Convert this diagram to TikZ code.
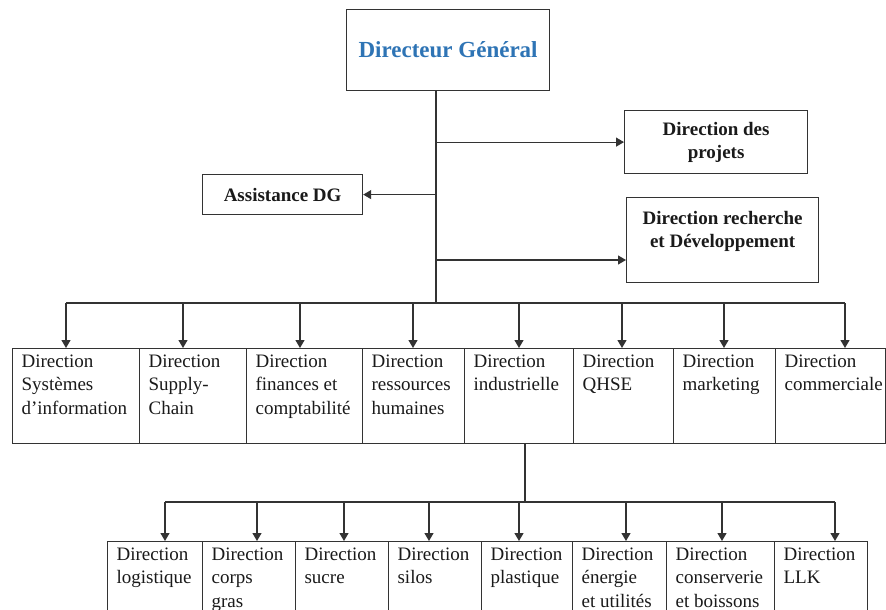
\documentclass[tikz,border=0pt]{standalone}
\usepackage{fontspec}
\setmainfont{Liberation Serif}
\usetikzlibrary{arrows.meta}

\definecolor{linec}{HTML}{333333}
\definecolor{dgblue}{RGB}{46,116,181}
\definecolor{txtc}{HTML}{1A1A1A}

% top-aligned, left-aligned text block of a fixed size
\newcommand\cellbox[3]{\parbox[c][#2][t]{#1}{\vspace*{6pt}\raggedright\leftskip=9pt\relax #3}}

\tikzset{
  wire/.style={draw=linec, line width=1.2pt},
  arr/.style={wire, -{Triangle[length=8pt,width=9pt]}},
  cell/.style={draw=linec, line width=1.2pt, anchor=north west, inner sep=0pt,
    text=txtc, font=\fontsize{19}{23.5}\selectfont},
  headbox/.style={draw=linec, line width=1.2pt, anchor=north west, inner sep=0pt,
    align=center, text=txtc, font=\bfseries\fontsize{19}{23}\selectfont},
}

\begin{document}
\begin{tikzpicture}[x=1pt, y=-1pt]
\useasboundingbox (0,0) rectangle (886,610);
\fill[white] (0,0) rectangle (886,610);
\begin{scope}
\clip (0,0) rectangle (886,610);

% general management
\node[headbox, minimum width=203pt, minimum height=81pt, text=dgblue,
  font=\bfseries\fontsize{23}{27}\selectfont] (dg) at (346,9) {Directeur Général};

% staff units
\node[headbox, minimum width=183pt, minimum height=63pt] (proj) at (624,110)
  {Direction des\\projets};
\node[headbox, minimum width=160pt, minimum height=40pt] (asst) at (202,174)
  {Assistance DG};
\node[headbox] (rd) at (626,197)
  {\parbox[c][85pt][t]{192pt}{\vspace*{14pt}\centering Direction recherche\\et Développement}};

% main trunk
\coordinate (trk) at (436,303);
\draw[wire] (trk |- dg.south) -- (trk);
\draw[arr] (proj.west -| trk) -- (proj.west);
\draw[arr] (asst.east -| trk) -- (asst.east);
\coordinate (rdin) at (626,260);
\draw[arr] (rdin -| trk) -- (rdin);

% first level directions
\node[cell] (r1) at (12,348)  {\cellbox{127pt}{95pt}{Direction\\Systèmes\\d’information}};
\node[cell] (r2) at (139,348) {\cellbox{107pt}{95pt}{Direction\\Supply-\\Chain}};
\node[cell] (r3) at (246,348) {\cellbox{116pt}{95pt}{Direction\\finances et\\comptabilité}};
\node[cell] (r4) at (362,348) {\cellbox{102pt}{95pt}{Direction\\ressources\\humaines}};
\node[cell] (r5) at (464,348) {\cellbox{109pt}{95pt}{Direction\\industrielle}};
\node[cell] (r6) at (573,348) {\cellbox{100pt}{95pt}{Direction\\QHSE}};
\node[cell] (r7) at (673,348) {\cellbox{102pt}{95pt}{Direction\\marketing}};
\node[cell] (r8) at (775,348) {\cellbox{110pt}{95pt}{Direction\\commerciale}};

\coordinate (b1) at (66,303);
\coordinate (b2) at (183,303);
\coordinate (b3) at (300,303);
\coordinate (b4) at (413,303);
\coordinate (b5) at (519,303);
\coordinate (b6) at (622,303);
\coordinate (b7) at (724,303);
\coordinate (b8) at (845,303);
\draw[wire] (b1) -- (b8);
\foreach \i in {1,...,8} \draw[arr] (b\i) -- (b\i |- r\i.north);

% industrial directions
\coordinate (ind) at (525,502);
\draw[wire] (ind |- r5.south) -- (ind);

\node[cell] (s1) at (107,541) {\cellbox{95pt}{80pt}{Direction\\logistique}};
\node[cell] (s2) at (202,541) {\cellbox{93pt}{80pt}{Direction\\corps\\gras}};
\node[cell] (s3) at (295,541) {\cellbox{93pt}{80pt}{Direction\\sucre}};
\node[cell] (s4) at (388,541) {\cellbox{93pt}{80pt}{Direction\\silos}};
\node[cell] (s5) at (481,541) {\cellbox{91pt}{80pt}{Direction\\plastique}};
\node[cell] (s6) at (572,541) {\cellbox{94pt}{80pt}{Direction\\énergie\\et utilités}};
\node[cell] (s7) at (666,541) {\cellbox{108pt}{80pt}{Direction\\conserverie\\et boissons}};
\node[cell] (s8) at (774,541) {\cellbox{93pt}{80pt}{Direction\\LLK}};

\coordinate (c1) at (165,502);
\coordinate (c2) at (257,502);
\coordinate (c3) at (344,502);
\coordinate (c4) at (429,502);
\coordinate (c5) at (519,502);
\coordinate (c6) at (626,502);
\coordinate (c7) at (722,502);
\coordinate (c8) at (835,502);
\draw[wire] (c1) -- (c8);
\foreach \i in {1,...,8} \draw[arr] (c\i) -- (c\i |- s\i.north);
\end{scope}
\end{tikzpicture}
\end{document}
